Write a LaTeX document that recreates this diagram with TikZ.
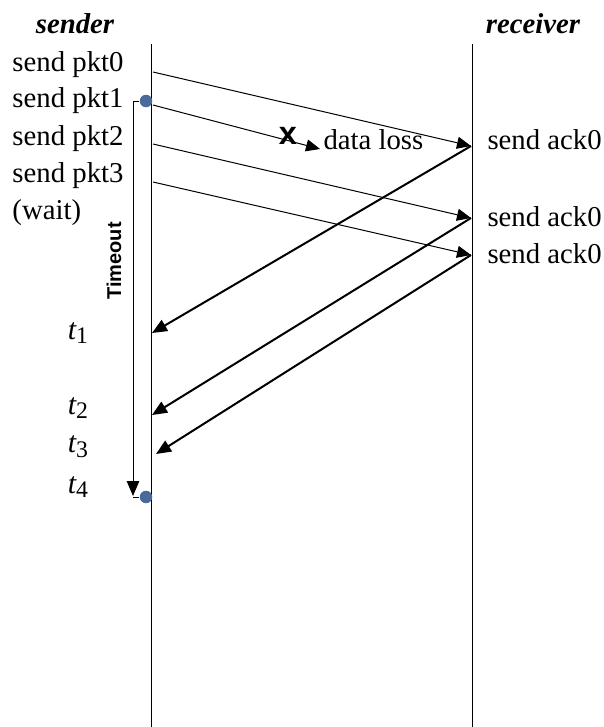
\documentclass[tikz,border=0pt]{standalone}
\usepackage{fontspec}
\setmainfont{Liberation Serif}
\newfontfamily\labelsans{Liberation Sans}
\usetikzlibrary{arrows.meta}
\definecolor{dotblue}{HTML}{4A6A9C}
\newcommand{\tsub}[1]{{\itshape t}\raisebox{-0.35ex}{\fontsize{9.5}{10}\selectfont #1}}
\tikzset{
  lbl/.style={anchor=west, inner sep=0pt, font=\rmfamily\fontsize{11.5}{13}\selectfont},
  head/.style={inner sep=0pt, font=\rmfamily\fontsize{11.5}{13}\selectfont\bfseries\itshape},
  tick/.style={inner sep=0pt, font=\rmfamily\fontsize{12}{13}\selectfont},
  pkt/.style={line width=0.4pt, -{Triangle[length=5.6pt, width=4.8pt]}},
  ack/.style={line width=0.8pt, -{Triangle[length=6pt, width=5pt]}},
  timer/.style={circle, fill=dotblue, inner sep=0pt, minimum size=5pt}
}
\begin{document}
\begin{tikzpicture}[x=0.4pt, y=-0.4pt]
  \useasboundingbox (0,0) rectangle (604,727);
  % lifelines
  \node[head] (sender) at (75,24) {sender};
  \node[head] (receiver) at (533,24) {receiver};
  \coordinate (stop) at (151,44);
  \coordinate (sbot) at (151,727);
  \coordinate (rtop) at (472,44);
  \coordinate (rbot) at (472,727);
  \draw[line width=0.4pt] (stop) -- (sbot);
  \draw[line width=0.4pt] (rtop) -- (rbot);

  % sender side
  \node[lbl] (p0) at (12,65) {send pkt0};
  \node[lbl] (p1) at (12,101) {send pkt1};
  \node[lbl] (p2) at (12,139) {send pkt2};
  \node[lbl] (p3) at (12,176) {send pkt3};
  \node[lbl] (wait) at (12,213) {(wait)};

  % receiver side
  \node[lbl] (a0) at (487,140) {send ack0};
  \node[lbl] (a1) at (487,217) {send ack0};
  \node[lbl] (a2) at (487,254) {send ack0};

  % packets
  \coordinate (s0) at (153,72);
  \coordinate (s1) at (153,105);
  \coordinate (s2) at (153,144);
  \coordinate (s3) at (153,182);
  \coordinate (r0) at (471,146);
  \coordinate (r2) at (471,218);
  \coordinate (r3) at (471,255);
  \coordinate (lost) at (320,149);
  \draw[pkt] (s0) -- (r0);
  \draw[pkt] (s1) -- (lost);
  \draw[pkt] (s2) -- (r2);
  \draw[pkt] (s3) -- (r3);
  \node[inner sep=0pt, font=\labelsans\bfseries\fontsize{13}{14}\selectfont] (x) at (288,136) {x};
  \node[lbl] (loss) at (323,140) {data loss};

  % acks
  \coordinate (t1a) at (152,333);
  \coordinate (t2a) at (152,415);
  \coordinate (t3a) at (156,454);
  \draw[ack] (r0) -- (t1a);
  \draw[ack] (r2) -- (t2a);
  \draw[ack] (r3) -- (t3a);

  \node[tick] (t1) at (78,333) {\tsub{1}};
  \node[tick] (t2) at (78,408) {\tsub{2}};
  \node[tick] (t3) at (78,447) {\tsub{3}};
  \node[tick] (t4) at (78,487) {\tsub{4}};

  % timer
  \node[timer] (on) at (146,101) {};
  \node[timer] (off) at (146,497) {};
  \coordinate (tl) at (133,101);
  \coordinate (bl) at (133,497);
  \draw[line width=0.4pt] (on) -- (tl) -- (133,478);
  \draw[line width=0.4pt, -{Triangle[length=6pt, width=5pt]}] (133,470) -- (133,496);
  \draw[line width=0.4pt] (bl) -- (off);
  \node[rotate=90, inner sep=0pt, font=\labelsans\bfseries\fontsize{8}{9}\selectfont] (timeout) at (114,261) {Timeout};
\end{tikzpicture}
\end{document}
